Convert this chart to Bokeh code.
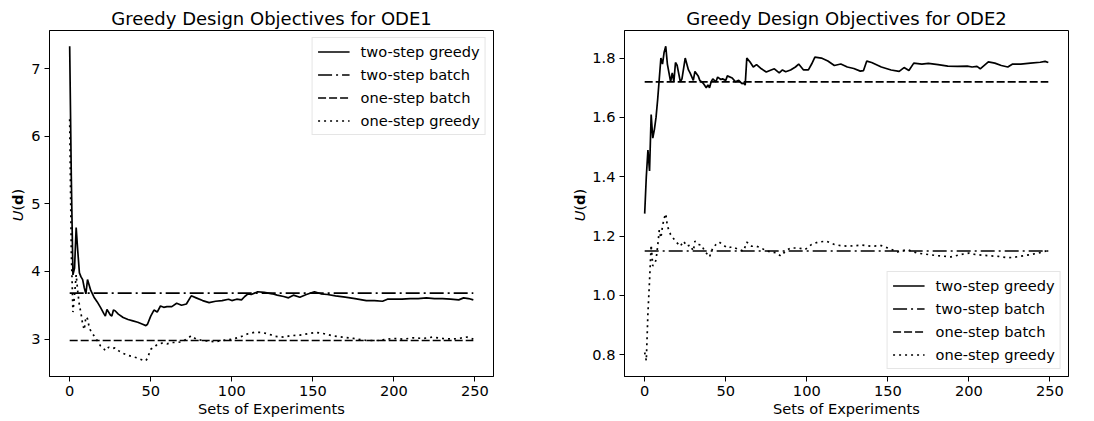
from bokeh.plotting import figure
from bokeh.models import FixedTicker, PrintfTickFormatter, Range1d, Div
from bokeh.layouts import row
from bokeh.embed import file_html
from bokeh.resources import INLINE

# ---------------- data ----------------
x_ticks = [0, 50, 100, 150, 200, 250]
series_names = ["two-step greedy", "two-step batch", "one-step batch", "one-step greedy"]

ode1_two_greedy_x = [0, 1, 2, 3, 4, 5, 6, 7, 8, 9, 10, 11, 12, 13, 15, 17, 19, 21, 22, 23, 25, 26, 27, 28,
                     30, 33, 36, 39, 42, 45, 47, 48, 50, 52, 54, 56, 58, 60, 63, 66, 69, 72, 75, 78, 82, 86,
                     90, 94, 98, 100, 103, 106, 108, 110, 112, 116, 120, 125, 128, 132, 135, 138, 142, 146,
                     151, 155, 159, 164, 170, 176, 183, 188, 193, 196, 200, 205, 210, 215, 220, 225, 230,
                     235, 240, 243, 246, 249]
ode1_two_greedy_y = [7.33, 5.4, 3.95, 4.05, 4.65, 4.30, 3.98, 3.92, 3.88, 3.76, 3.67, 3.88, 3.80, 3.72, 3.62,
                     3.55, 3.47, 3.38, 3.34, 3.44, 3.36, 3.34, 3.43, 3.42, 3.37, 3.32, 3.29, 3.27, 3.25, 3.22,
                     3.20, 3.22, 3.34, 3.43, 3.40, 3.49, 3.47, 3.48, 3.48, 3.53, 3.50, 3.52, 3.64, 3.61, 3.57,
                     3.54, 3.56, 3.57, 3.59, 3.57, 3.59, 3.58, 3.63, 3.67, 3.66, 3.70, 3.69, 3.67, 3.65, 3.63,
                     3.61, 3.65, 3.62, 3.66, 3.70, 3.67, 3.66, 3.64, 3.62, 3.60, 3.57, 3.57, 3.56, 3.59, 3.59,
                     3.59, 3.60, 3.60, 3.61, 3.60, 3.60, 3.59, 3.58, 3.61, 3.60, 3.58]

ode1_one_greedy_x = [0, 1, 2, 3, 4, 5, 6, 7, 8, 9, 10, 11, 12, 13, 15, 17, 19, 21, 22, 24, 26, 28, 30, 33,
                     36, 39, 42, 45, 47, 48, 50, 52, 54, 57, 60, 63, 66, 69, 72, 75, 78, 82, 86, 90, 94, 98,
                     102, 106, 110, 114, 118, 122, 127, 132, 136, 142, 147, 152, 157, 162, 168, 175, 183,
                     190, 196, 200, 206, 212, 218, 224, 230, 236, 240, 245, 249]
ode1_one_greedy_y = [6.25, 4.3, 3.40, 3.65, 3.95, 3.70, 3.50, 3.38, 3.22, 3.14, 3.33, 3.30, 3.18, 3.12, 3.05,
                     2.98, 2.90, 2.86, 2.83, 2.88, 2.86, 2.87, 2.83, 2.79, 2.76, 2.74, 2.72, 2.69, 2.68, 2.72,
                     2.85, 2.88, 2.92, 2.94, 2.93, 2.95, 2.95, 2.96, 3.00, 3.05, 3.00, 2.98, 2.97, 2.96, 2.98,
                     2.99, 3.01, 3.04, 3.08, 3.10, 3.10, 3.08, 3.04, 3.03, 3.05, 3.06, 3.08, 3.10, 3.08, 3.05,
                     3.03, 3.01, 2.98, 2.98, 3.00, 3.01, 3.00, 3.02, 3.01, 3.03, 3.01, 3.00, 3.01, 3.03, 3.00]

ode1_two_batch = 3.68
ode1_one_batch = 2.98

ode2_two_greedy_x = [0, 1, 2, 3, 4, 5, 6, 7, 8, 9, 10, 11, 12, 13, 14, 15, 16, 17, 18, 19, 20, 22, 23, 25,
                     26, 27, 28, 30, 31, 33, 34, 36, 38, 39, 40, 41, 42, 44, 45, 47, 48, 50, 51, 54, 56, 58,
                     60, 61, 62, 63, 65, 67, 69, 72, 75, 78, 80, 83, 85, 87, 90, 93, 95, 98, 101, 103, 105,
                     109, 113, 117, 121, 125, 129, 133, 135, 137, 140, 146, 152, 157, 160, 163, 166, 171,
                     175, 181, 187, 193, 199, 202, 205, 207, 212, 216, 220, 224, 227, 232, 238, 244, 247, 249]
ode2_two_greedy_y = [1.276, 1.40, 1.49, 1.42, 1.61, 1.53, 1.56, 1.60, 1.66, 1.73, 1.80, 1.78, 1.82, 1.84,
                     1.78, 1.75, 1.72, 1.75, 1.72, 1.785, 1.776, 1.72, 1.73, 1.80, 1.78, 1.76, 1.75, 1.725,
                     1.755, 1.74, 1.725, 1.716, 1.70, 1.71, 1.70, 1.72, 1.73, 1.72, 1.736, 1.728, 1.73,
                     1.725, 1.74, 1.733, 1.72, 1.725, 1.714, 1.716, 1.709, 1.80, 1.787, 1.77, 1.778, 1.764,
                     1.753, 1.76, 1.764, 1.75, 1.76, 1.754, 1.76, 1.77, 1.78, 1.76, 1.76, 1.78, 1.803, 1.80,
                     1.79, 1.775, 1.78, 1.77, 1.765, 1.756, 1.758, 1.79, 1.785, 1.77, 1.76, 1.755, 1.768,
                     1.758, 1.783, 1.78, 1.782, 1.778, 1.773, 1.772, 1.773, 1.77, 1.772, 1.764, 1.787, 1.783,
                     1.775, 1.77, 1.78, 1.78, 1.783, 1.786, 1.789, 1.785]

ode2_one_greedy_x = [0, 1, 2, 3, 4, 5, 6, 7, 8, 9, 10, 11, 12, 13, 14, 16, 19, 22, 24, 26, 28, 30, 31, 33,
                     35, 37, 40, 42, 44, 46, 48, 51, 54, 58, 61, 63, 66, 69, 72, 75, 81, 84, 87, 90, 95, 99,
                     103, 107, 112, 117, 121, 125, 130, 134, 140, 146, 150, 156, 162, 168, 175, 181, 189,
                     195, 200, 204, 212, 218, 224, 228, 234, 243, 249]
ode2_one_greedy_y = [0.808, 0.78, 0.94, 1.05, 1.17, 1.10, 1.105, 1.12, 1.166, 1.22, 1.194, 1.234, 1.26,
                     1.275, 1.234, 1.205, 1.183, 1.166, 1.183, 1.166, 1.17, 1.15, 1.183, 1.172, 1.17, 1.15,
                     1.13, 1.16, 1.172, 1.18, 1.172, 1.16, 1.164, 1.155, 1.15, 1.18, 1.166, 1.166, 1.16,
                     1.15, 1.144, 1.133, 1.15, 1.16, 1.16, 1.155, 1.172, 1.18, 1.183, 1.172, 1.168, 1.166,
                     1.168, 1.17, 1.166, 1.168, 1.16, 1.147, 1.155, 1.143, 1.138, 1.134, 1.13, 1.138, 1.143,
                     1.138, 1.134, 1.132, 1.127, 1.129, 1.134, 1.143, 1.152]

ode2_two_batch = 1.15
ode2_one_batch = 1.72

batch_x = [0, 249]
y_label_html = "<i>U</i>(<b>d</b>)"

FONT = "DejaVu Sans"
TICK_PX = "14.6px"
FRAME_W, FRAME_H = 444, 346
X_LO, X_HI = -12.45, 261.45
LW = 1.7


def ylabel_div(width, center_x):
    html = ('<div style="width:%dpx;height:421px;position:relative;">'
            '<div style="position:absolute;left:%dpx;top:205px;'
            'transform:translate(-50%%,-50%%) rotate(-90deg);white-space:nowrap;'
            'font-family:\'DejaVu Sans\';font-size:14.6px;color:black;line-height:1;">'
            '%s</div></div>') % (width, center_x, y_label_html)
    return Div(text=html, width=width, height=421, margin=0)


def panel(title, gx, gy, ox, oy, two_batch, one_batch, y_lo, y_hi, y_ticks, y_fmt,
          border_left, border_right, legend_loc):
    p = figure(frame_width=FRAME_W, frame_height=FRAME_H, output_backend="svg", toolbar_location=None,
               x_range=Range1d(X_LO, X_HI), y_range=Range1d(y_lo, y_hi),
               min_border_left=border_left, min_border_right=border_right,
               min_border_top=30, min_border_bottom=45,
               background_fill_color="white", border_fill_color="white")
    p.title.text = title
    p.title.align = "center"
    p.title.text_font = FONT
    p.title.text_font_size = "18px"
    p.title.text_font_style = "normal"
    p.title.text_color = "black"
    p.title.standoff = 4

    p.line(gx, gy, line_color="black", line_width=LW, legend_label=series_names[0])
    p.line(batch_x, [two_batch, two_batch], line_color="black", line_width=LW,
           line_dash="14 4 2 4", legend_label=series_names[1])
    p.line(batch_x, [one_batch, one_batch], line_color="black", line_width=LW,
           line_dash="8 3", legend_label=series_names[2])
    p.line(ox, oy, line_color="black", line_width=LW, line_dash="2 4",
           legend_label=series_names[3])

    p.xgrid.visible = False
    p.ygrid.visible = False
    p.outline_line_color = "black"
    p.outline_line_width = 1
    p.outline_line_alpha = 1

    for ax in (p.xaxis[0], p.yaxis[0]):
        ax.axis_line_color = "black"
        ax.major_tick_out = 5
        ax.major_tick_in = 0
        ax.minor_tick_out = 0
        ax.minor_tick_in = 0
        ax.major_tick_line_color = "black"
        ax.major_label_text_font = FONT
        ax.major_label_text_font_size = TICK_PX
        ax.major_label_text_color = "black"
        ax.major_label_standoff = 4
        ax.axis_label_text_font = FONT
        ax.axis_label_text_font_size = TICK_PX
        ax.axis_label_text_font_style = "normal"
        ax.axis_label_text_color = "black"

    p.xaxis.ticker = FixedTicker(ticks=x_ticks)
    p.xaxis.axis_label = "Sets of Experiments"
    p.xaxis.axis_label_standoff = 1
    p.yaxis.ticker = FixedTicker(ticks=y_ticks)
    p.yaxis.formatter = PrintfTickFormatter(format=y_fmt)

    lg = p.legend[0]
    lg.location = legend_loc
    lg.margin = 7
    lg.padding = 5
    lg.spacing = 6
    lg.glyph_width = 32
    lg.glyph_height = 17
    lg.label_height = 17
    lg.label_standoff = 11
    lg.label_text_font = FONT
    lg.label_text_font_size = TICK_PX
    lg.label_text_color = "black"
    lg.border_line_color = "#cccccc"
    lg.border_line_width = 1
    lg.background_fill_color = "white"
    lg.background_fill_alpha = 0.8
    return p


p1 = panel("Greedy Design Objectives for ODE1", ode1_two_greedy_x, ode1_two_greedy_y,
           ode1_one_greedy_x, ode1_one_greedy_y, ode1_two_batch, ode1_one_batch,
           2.4475, 7.5625, [3, 4, 5, 6, 7], "%d", 21, 54, "top_right")
p2 = panel("Greedy Design Objectives for ODE2", ode2_two_greedy_x, ode2_two_greedy_y,
           ode2_one_greedy_x, ode2_one_greedy_y, ode2_two_batch, ode2_one_batch,
           0.727, 1.893, [0.8, 1.0, 1.2, 1.4, 1.6, 1.8], "%.1f", 37, 26, "bottom_right")

layout = row(ylabel_div(28, 18), p1, ylabel_div(40, 33), p2)
open("out.html", "w").write(file_html(layout, INLINE))
